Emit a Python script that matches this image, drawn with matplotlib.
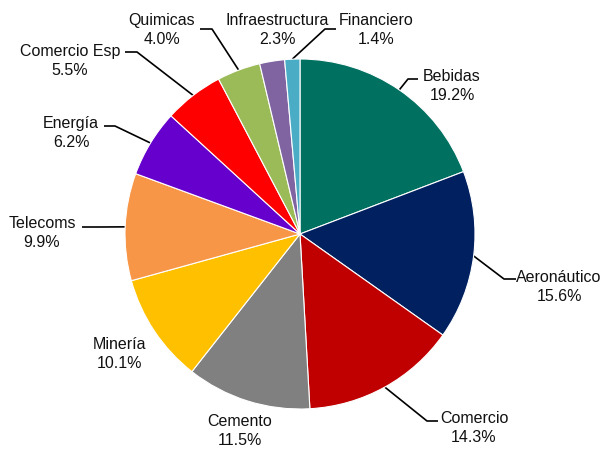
import numpy as np
import matplotlib.pyplot as plt

sectores = ['Bebidas', 'Aeronáutico', 'Comercio', 'Cemento', 'Minería', 'Telecoms',
            'Energía', 'Comercio Esp', 'Quimicas', 'Infraestructura', 'Financiero']
porcentajes = [19.2, 15.6, 14.3, 11.5, 10.1, 9.9, 6.2, 5.5, 4.0, 2.3, 1.4]
colores = ['#007060', '#002060', '#C00000', '#808080', '#FFC000', '#F79646',
           '#6600CC', '#FF0000', '#9BBB59', '#8064A2', '#4BACC6']

# layout in pixels of the 603x452 image (centre of pie at 300,235, radius 175)
CX, CY, R = 300, 235, 175

def px(x, y):
    return (x - CX) / R, (CY - y) / R

# label block centres
label_pos = [(452, 86), (559, 287), (474, 428), (240, 431), (119, 354), (42, 233),
             (71, 133), (70, 61), (162, 30), (277, 30), (376, 30)]
# leader lines: (elbow, end) or None
leaders = [((408, 80), (418, 80)), ((504, 280), (516, 280)), ((427, 422), (438, 422)),
           None, None, ((100, 228), (82, 228)), ((115, 127), (104, 127)),
           ((137, 53), (125, 53)), ((212, 30), (200, 30)), None,
           ((325, 30), (336, 30))]

plt.rcParams['font.family'] = ['Liberation Sans', 'DejaVu Sans']

fig = plt.figure(figsize=(6.03, 4.52), dpi=100)
ax = fig.add_axes([0, 0, 1, 1])

wedges, _ = ax.pie(porcentajes, colors=colores, startangle=90, counterclock=False,
                   radius=1, wedgeprops=dict(edgecolor='white', linewidth=0.8))

for w, nombre, val, pos, ld in zip(wedges, sectores, porcentajes, label_pos, leaders):
    ang = np.deg2rad((w.theta1 + w.theta2) / 2)
    tx, ty = px(*pos)
    ax.text(tx, ty, f'{nombre}\n{val:.1f}%', ha='center', va='center',
            fontsize=11.5, linespacing=1.35, color='#111111')
    if ld is not None:
        ex, ey = np.cos(ang), np.sin(ang)
        bx, by = px(*ld[0])
        fx, fy = px(*ld[1])
        ax.plot([ex, bx, fx], [ey, by, fy], color='black', lw=1.2,
                solid_capstyle='butt', zorder=0.5)

ax.set_xlim(-CX / R, (603 - CX) / R)
ax.set_ylim(-(452 - CY) / R, CY / R)
ax.set_aspect('auto')
ax.axis('off')

fig.savefig('out.png', dpi=100)
